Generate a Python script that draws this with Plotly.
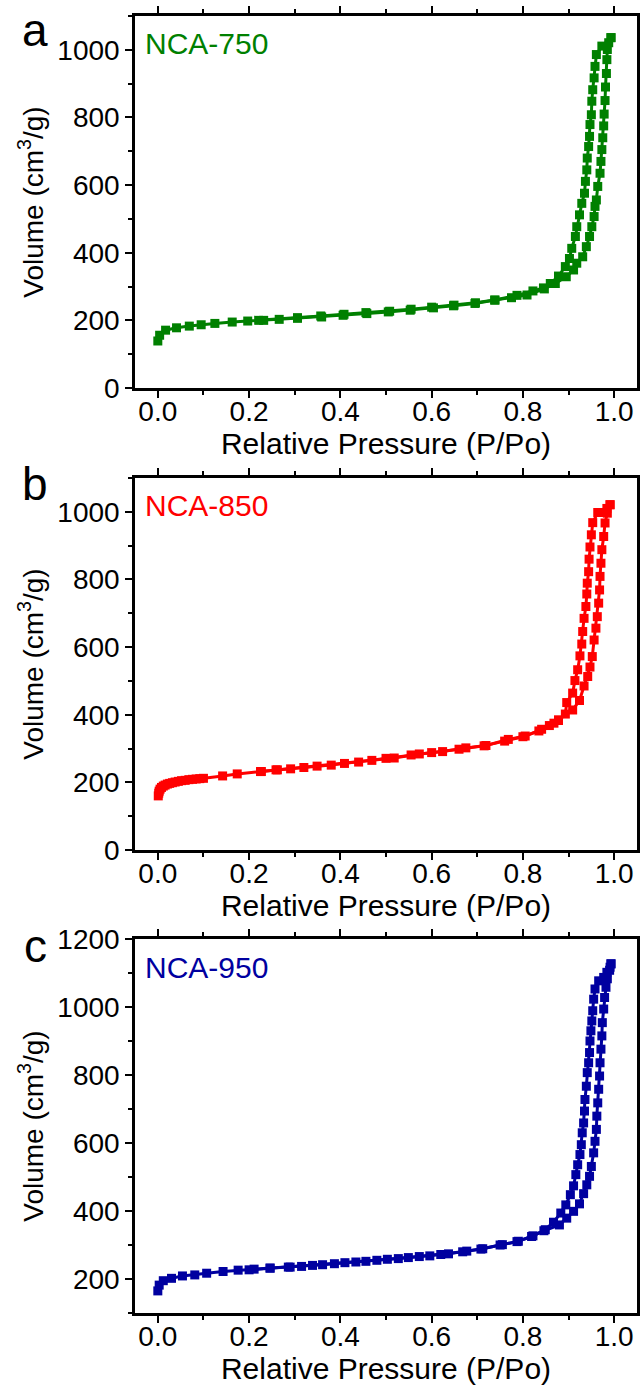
import plotly.graph_objects as go

# ---- NCA-750 : N2 sorption isotherm ----
p750_ads = [0.000, 0.004, 0.017, 0.041, 0.069, 0.095, 0.125, 0.163, 0.197, 0.232,
            0.306, 0.357, 0.408, 0.456, 0.508, 0.555, 0.600, 0.649, 0.696, 0.738,
            0.775, 0.809, 0.847, 0.871, 0.895, 0.911, 0.918, 0.931, 0.939, 0.946,
            0.951, 0.956, 0.958, 0.961, 0.964, 0.969, 0.971, 0.973, 0.975, 0.977,
            0.978, 0.980, 0.981, 0.983, 0.984, 0.985, 0.988, 0.993]
v750_ads = [139, 156, 171, 178, 183, 187, 191, 195, 198, 200,
            208, 213, 218, 223, 227, 233, 239, 245, 252, 260,
            267, 275, 293, 309, 329, 349, 369, 388, 418, 448,
            477, 507, 537, 556, 596, 635, 670, 705, 740, 775,
            810, 850, 890, 930, 971, 1001, 1021, 1036]
p750_des = [0.993, 0.973, 0.961, 0.958, 0.956, 0.953, 0.951, 0.950, 0.947, 0.946,
            0.944, 0.941, 0.940, 0.937, 0.935, 0.929, 0.924, 0.918, 0.915, 0.907,
            0.902, 0.893, 0.878, 0.860, 0.845, 0.822, 0.787, 0.739, 0.695, 0.648,
            0.604, 0.553, 0.505, 0.458, 0.406, 0.359, 0.306, 0.266, 0.221]
v750_des = [1036, 1011, 986, 951, 917, 882, 848, 808, 779, 744,
            714, 680, 645, 611, 576, 546, 512, 477, 448, 413,
            383, 359, 331, 309, 296, 287, 274, 260, 250, 243,
            237, 230, 225, 220, 215, 210, 206, 203, 200]

# ---- NCA-850 ----
p850_ads = [0.001, 0.002, 0.003, 0.005, 0.008, 0.012, 0.016, 0.021, 0.026, 0.032,
            0.038, 0.045, 0.052, 0.060, 0.068, 0.076, 0.084, 0.092, 0.100, 0.142,
            0.174, 0.227, 0.259, 0.291, 0.349, 0.409, 0.469, 0.518, 0.573, 0.624,
            0.675, 0.719, 0.768, 0.805, 0.841, 0.868, 0.878, 0.909, 0.924, 0.934,
            0.942, 0.947, 0.952, 0.956, 0.960, 0.963, 0.966, 0.968, 0.969, 0.971,
            0.973, 0.977, 0.980, 0.985, 0.991]
v850_ads = [160, 168, 174, 180, 185, 189, 192, 195, 197, 199,
            201, 203, 205, 206, 208, 209, 210, 211, 212, 219,
            225, 232, 237, 240, 248, 256, 265, 272, 284, 291,
            302, 309, 327, 337, 357, 375, 385, 414, 442, 485,
            513, 541, 572, 621, 656, 690, 730, 769, 809, 848,
            888, 927, 967, 996, 1021]
p850_des = [0.991, 0.984, 0.973, 0.964, 0.953, 0.950, 0.947, 0.945, 0.944, 0.941,
            0.940, 0.938, 0.934, 0.931, 0.929, 0.925, 0.920, 0.914, 0.909, 0.896,
            0.893, 0.878, 0.858, 0.835, 0.800, 0.760, 0.715, 0.660, 0.600, 0.555,
            0.500, 0.440, 0.380, 0.320, 0.262, 0.225]
v850_des = [1021, 1010, 998, 998, 968, 932, 896, 860, 823, 789,
            757, 720, 685, 646, 609, 574, 533, 501, 464, 436,
            402, 383, 368, 352, 335, 322, 308, 298, 288, 281,
            271, 260, 251, 244, 237, 232]

# ---- NCA-950 ----
p950_ads = [0.000, 0.003, 0.012, 0.030, 0.054, 0.081, 0.107, 0.143, 0.176, 0.211,
            0.246, 0.286, 0.315, 0.361, 0.410, 0.456, 0.503, 0.549, 0.596, 0.637,
            0.677, 0.708, 0.750, 0.787, 0.819, 0.846, 0.880, 0.896, 0.911, 0.924,
            0.933, 0.940, 0.946, 0.950, 0.955, 0.958, 0.961, 0.962, 0.964, 0.966,
            0.968, 0.969, 0.971, 0.973, 0.974, 0.977, 0.979, 0.982, 0.985, 0.990,
            0.993]
v950_ads = [165, 182, 195, 202, 209, 212, 217, 222, 226, 229,
            232, 235, 237, 242, 248, 252, 258, 263, 268, 274,
            282, 288, 300, 310, 325, 342, 359, 379, 399, 421,
            451, 477, 502, 531, 571, 605, 640, 679, 718, 758,
            797, 836, 876, 915, 954, 994, 1028, 1058, 1083, 1108,
            1127]
p950_des = [0.993, 0.991, 0.984, 0.977, 0.966, 0.958, 0.955, 0.953, 0.951, 0.949,
            0.947, 0.946, 0.944, 0.941, 0.939, 0.936, 0.935, 0.933, 0.930, 0.928,
            0.925, 0.920, 0.916, 0.911, 0.904, 0.894, 0.883, 0.867, 0.849, 0.822,
            0.790, 0.755, 0.712, 0.668, 0.620, 0.573, 0.527, 0.480, 0.434, 0.387,
            0.339, 0.290, 0.246, 0.200]
v950_des = [1127, 1117, 1102, 1087, 1077, 1053, 1023, 989, 959, 930,
            900, 866, 836, 807, 767, 728, 694, 659, 630, 595,
            566, 536, 507, 474, 448, 418, 394, 367, 345, 327,
            311, 301, 289, 280, 272, 266, 260, 255, 250, 245,
            240, 235, 232, 227]

samples = ["NCA-750", "NCA-850", "NCA-950"]
panel_tags = ["a", "b", "c"]
colors = ["#008000", "#FF0000", "#0000A0"]
y_ranges = [[0, 1100], [0, 1100], [100, 1200]]

series = [
    (p750_ads, v750_ads, p750_des, v750_des),
    (p850_ads, v850_ads, p850_des, v850_des),
    (p950_ads, v950_ads, p950_des, v950_des),
]

W, H = 640, 1392
FONT = "Liberation Sans, Arial, sans-serif"
x_dom = [135 / W, 637 / W]
# plot frames (top, bottom) and panel-letter centre, in pixels
frames = [(16, 388), (478, 850), (939, 1313)]
tag_y = [30, 484, 946]

fig = go.Figure()

for i, (pa, va, pd_, vd) in enumerate(series):
    n = "" if i == 0 else str(i + 1)
    xa, ya = "x" + n, "y" + n
    for px, vy in ((pa, va), (pd_, vd)):
        fig.add_trace(go.Scatter(
            x=px, y=vy, xaxis=xa, yaxis=ya, mode="lines+markers",
            line=dict(color=colors[i], width=3),
            marker=dict(symbol="square", size=9, color=colors[i]),
            showlegend=False, hoverinfo="skip"))

    top, bot = frames[i]
    axis_common = dict(
        showline=True, linecolor="black", linewidth=2.5, mirror="allticks",
        ticks="outside", tickcolor="black", tickwidth=2, ticklen=7,
        showgrid=False, zeroline=False, automargin=False,
        tickfont=dict(family=FONT, size=28, color="black"),
    )
    fig.update_layout({
        "xaxis" + n: dict(
            axis_common, domain=x_dom, anchor=ya, range=[-0.05, 1.05],
            tick0=0, dtick=0.2, tickformat=".1f", ticklabelstandoff=-10,
            minor=dict(dtick=0.1, ticklen=4, tickwidth=2, ticks="outside", tickcolor="black"),
            title=dict(text="Relative Pressure (P/Po)", standoff=2,
                       font=dict(family=FONT, size=30, color="black")),
        ),
        "yaxis" + n: dict(
            axis_common, domain=[1 - bot / H, 1 - top / H], anchor=xa,
            range=y_ranges[i], tick0=0, dtick=200,
            minor=dict(dtick=100, ticklen=4, tickwidth=2, ticks="outside", tickcolor="black"),
            title=dict(text="Volume (cm<sup>3</sup>/g)", standoff=6,
                       font=dict(family=FONT, size=28, color="black")),
        ),
    })
    fig.add_annotation(
        text=samples[i], xref=xa + " domain", yref=ya + " domain",
        x=0.015, y=0.925, xanchor="left", yanchor="middle", showarrow=False,
        font=dict(family=FONT, size=30, color=colors[i]))
    fig.add_annotation(
        text=panel_tags[i], xref="paper", yref="paper",
        x=35 / W, y=1 - tag_y[i] / H, xanchor="center", yanchor="middle",
        showarrow=False, font=dict(family=FONT, size=46, color="black"))

fig.update_layout(
    width=W, height=H, margin=dict(l=0, r=0, t=0, b=0, autoexpand=False),
    paper_bgcolor="white", plot_bgcolor="white",
    font=dict(family=FONT),
)

fig.write_html("out.html")
